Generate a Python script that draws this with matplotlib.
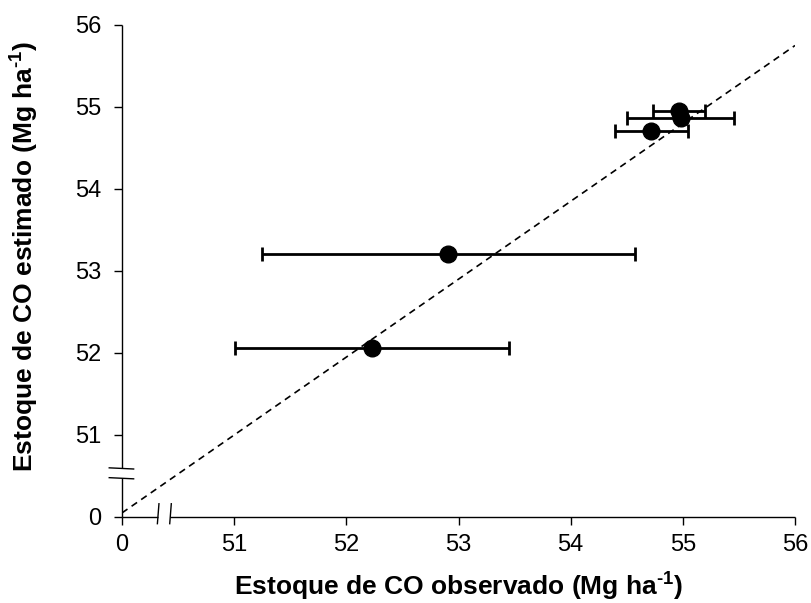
import matplotlib
matplotlib.use("Agg")
import matplotlib.pyplot as plt

plt.rcParams['font.family'] = ['Liberation Sans', 'DejaVu Sans']
plt.rcParams['mathtext.fontset'] = 'custom'
plt.rcParams['mathtext.rm'] = 'Liberation Sans:bold'
plt.rcParams['mathtext.bf'] = 'Liberation Sans:bold'
plt.rcParams['mathtext.it'] = 'Liberation Sans:bold'

# Data (Mg ha-1)
observed = [54.965, 54.98, 54.72, 52.91, 52.23]
estimated = [54.95, 54.86, 54.71, 53.21, 52.06]
observed_err = [0.235, 0.475, 0.325, 1.66, 1.22]

# Reference line (1:1, drawn across broken axes)
ref_x = [50.0, 56.0]
ref_y = [50.05, 55.75]

# Axis ticks: the position 50 stands for 0 (broken axis)
tick_pos = [50, 51, 52, 53, 54, 55, 56]
tick_labels = ['0', '51', '52', '53', '54', '55', '56']

fig = plt.figure(figsize=(8.11, 6.03), dpi=100)
ax = fig.add_axes([122/811, 1-517/603, (795-122)/811, (517-25)/603])

ax.plot(ref_x, ref_y, ls=(0, (4, 3)), color='black', lw=1.2, zorder=1)
ax.errorbar(observed, estimated, xerr=observed_err, fmt='o', color='black',
            ms=12, elinewidth=2.0, capsize=5, capthick=2.0, zorder=3)

ax.set_xlim(50, 56)
ax.set_ylim(50, 56)
ax.set_xticks(tick_pos)
ax.set_xticklabels(tick_labels)
ax.set_yticks(tick_pos)
ax.set_yticklabels(tick_labels)
ax.tick_params(direction='out', length=6, width=1, labelsize=17, colors='black')
ax.tick_params(axis='y', pad=9)
ax.tick_params(axis='x', pad=6)

for s in ['top', 'right', 'left', 'bottom']:
    ax.spines[s].set_visible(False)

# Broken spines
kw = dict(color='black', lw=1.0, clip_on=False, solid_capstyle='butt')
ax.plot([50, 50], [50, 50.48], **kw)
ax.plot([50, 50], [50.6, 56], **kw)
ax.plot([50, 50.32], [50, 50], **kw)
ax.plot([50.43, 56], [50, 50], **kw)
# Break marks
ax.plot([49.88, 50.11], [50.6, 50.585], **kw)
ax.plot([49.88, 50.11], [50.48, 50.465], **kw)
ax.plot([50.315, 50.33], [49.91, 50.17], **kw)
ax.plot([50.425, 50.44], [49.91, 50.17], **kw)

ax.set_xlabel('Estoque de CO observado (Mg ha$^{\u2010 1}$)', fontsize=19, fontweight='bold')
ax.set_ylabel('Estoque de CO estimado (Mg ha$^{\u2010 1}$)', fontsize=19, fontweight='bold')
ax.xaxis.set_label_coords(0.5, -0.11)
ax.yaxis.set_label_coords(-0.12, 0.53)

fig.savefig('out.png', dpi=100)
